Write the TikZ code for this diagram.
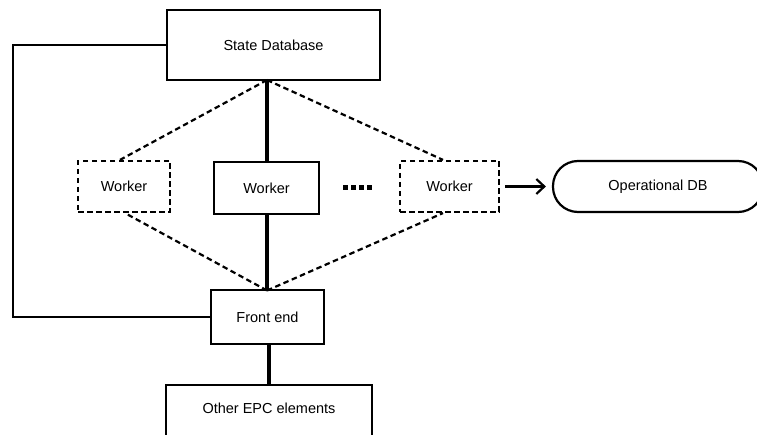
\documentclass[tikz,border=0pt]{standalone}
\usepackage{fontspec}
\setmainfont{Liberation Sans}
\usetikzlibrary{arrows.meta}
\begin{document}
\begin{tikzpicture}[x=1pt,y=-1pt,
  every node/.style={font=\fontsize{14.5}{17}\selectfont, inner sep=0pt},
  box/.style={draw, line width=2.2pt, rectangle},
  dbox/.style={draw, line width=2.2pt, rectangle, dash pattern=on 5.5pt off 3.5pt},
  pill/.style={draw, line width=2.2pt, rectangle, rounded corners=25pt},
  thickline/.style={line width=3.2pt},
  link/.style={line width=2.2pt},
  dlink/.style={line width=2.2pt, dash pattern=on 5.5pt off 3.5pt},
]
\useasboundingbox (0,0) rectangle (757,435);
\begin{scope}
\clip (0,0) rectangle (757,435);

% boxes
\node[box, minimum width=213pt, minimum height=70pt] (sdb) at (273.5,45) {State Database};
\node[dbox, minimum width=92pt, minimum height=51pt] (w1) at (124,186.5) {Worker};
\node[box, minimum width=105pt, minimum height=52pt] (w2) at (266.5,188) {Worker};
\node[dbox, minimum width=99pt, minimum height=51pt] (w3) at (449.5,186.5) {Worker};
\node[pill, minimum width=210pt, minimum height=51pt] (odb) at (658,186.5) {Operational DB};
\node[box, minimum width=113pt, minimum height=54pt] (fe) at (267.5,317) {Front end};
\node[box, anchor=north, minimum width=206pt, text height=28pt, text depth=50pt] (epc) at (269,384) {Other EPC elements};

% helper points
\coordinate (loopx) at (13,0);
\coordinate (sdbfoot) at (267,80);
\coordinate (fehead) at (267,290.5);
\coordinate (dotsA) at (343,188);
\coordinate (dotsB) at (374,188);

% solid trunk
\draw[thickline] (sdbfoot) -- (sdbfoot |- w2.north);
\draw[thickline] (sdbfoot |- w2.south) -- (fehead);
\draw[thickline] (fe.south -| epc.north) -- (epc.north);

% feedback loop from the state database to the front end
\draw[link] (sdb.west) -- (sdb.west -| loopx) |- (fe.west);

% dashed fan-out to the optional workers
\draw[dlink] (sdbfoot) -- (w1.north -| 120,0);
\draw[dlink] (sdbfoot) -- (w3.north -| 443,0);
\draw[dlink] (fehead) -- (w1.south -| 125,0);
\draw[dlink] (fehead) -- (w3.south -| 443,0);

% ellipsis between workers
\draw[line width=5pt, dash pattern=on 5pt off 3pt] (dotsA) -- (dotsB);

% worker to operational DB
\draw[link, -{Straight Barb[length=8pt,width=15pt,line width=2.2pt]}, shorten <=5pt, shorten >=6pt] (w3.east |- odb.west) -- (odb.west);
\end{scope}
\end{tikzpicture}
\end{document}
